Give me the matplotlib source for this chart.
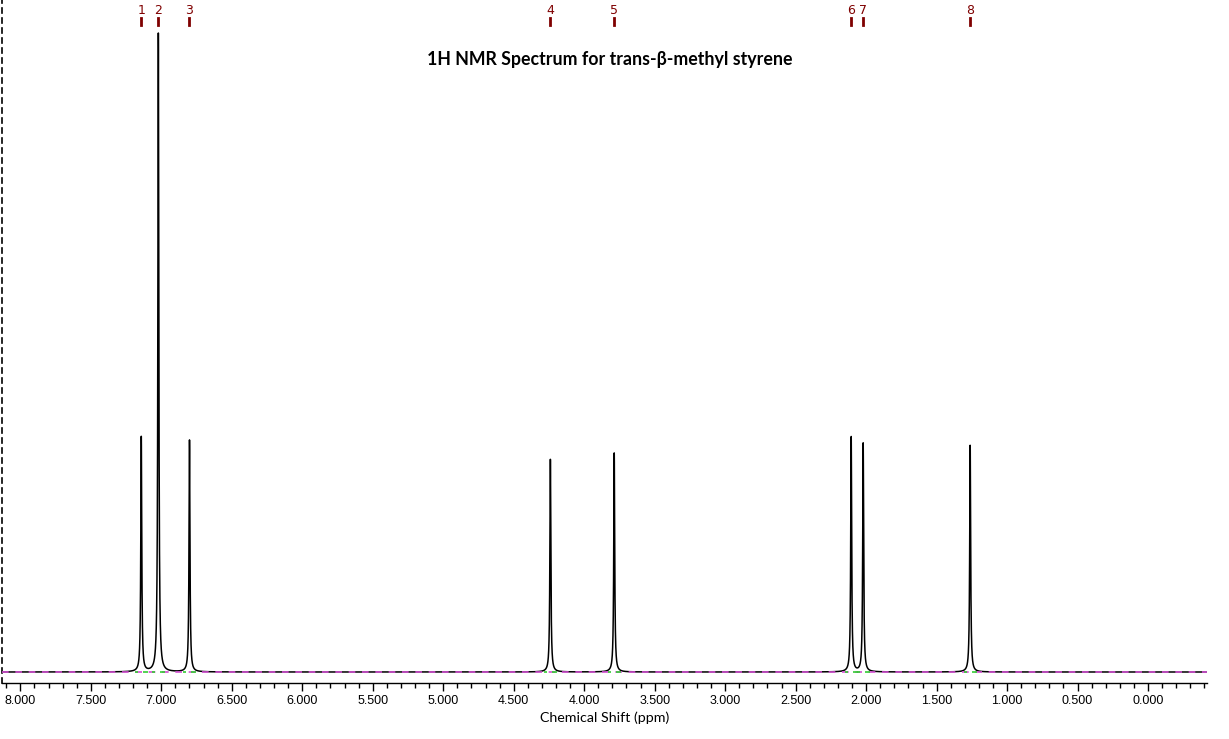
import matplotlib
matplotlib.use("Agg")
import matplotlib.pyplot as plt
import matplotlib.transforms as mtransforms
from matplotlib.ticker import MultipleLocator, FormatStrFormatter
import numpy as np

# peak positions (ppm) and relative heights
peak_ppm = [7.142, 7.021, 6.800, 4.240, 3.787, 2.106, 2.021, 1.262]
peak_height = [0.368, 1.000, 0.363, 0.333, 0.343, 0.368, 0.358, 0.355]
peak_labels = ["1", "2", "3", "4", "5", "6", "7", "8"]

title = "1H NMR Spectrum for trans-\u03b2-methyl styrene"
xlabel = "Chemical Shift (ppm)"

x_left, x_right = 8.13, -0.418
gamma = 0.004  # lorentzian half width (ppm)

ppm = np.linspace(x_left, x_right, 80000)
spec = np.zeros_like(ppm)
for p, h in zip(peak_ppm, peak_height):
    spec += h * gamma**2 / ((ppm - p)**2 + gamma**2)
# normalise so the tallest line reaches its height
spec = spec / spec.max() * max(peak_height)

W, H = 1229, 739
fig = plt.figure(figsize=(W / 100, H / 100), dpi=100)
# axes from x=2 to 1207 px, y from 682 px (axis line) up to top
ax = fig.add_axes([2 / W, (H - 682.5) / H, (1207 - 2) / W, 682.5 / H])

ax.plot(ppm, spec, color="black", lw=1.1, zorder=2)
# magenta dashed baseline marker over the spectrum baseline
ax.plot([x_left, x_right], [0, 0], color="#d24fd2", lw=1.2,
        dashes=(4, 4), zorder=3)
# green integration marks under the peaks
for p in peak_ppm:
    ax.plot([p - 0.045, p + 0.045], [0, 0], color="#33cc33", lw=1.2,
            dashes=(3, 3), zorder=4)

ax.set_xlim(x_left, x_right)
ax.set_ylim(-10.5 / 639, 672 / 639)

ax.xaxis.set_major_locator(MultipleLocator(0.5))
ax.xaxis.set_minor_locator(MultipleLocator(0.1))
ax.xaxis.set_major_formatter(FormatStrFormatter("%.3f"))
ax.tick_params(axis="x", which="major", length=6, width=1, direction="out",
               labelsize=9, pad=3)
ax.tick_params(axis="x", which="minor", length=3.5, width=1, direction="out")
for lab in ax.get_xticklabels():
    lab.set_family("Liberation Sans")
ax.set_yticks([])

ax.spines["top"].set_visible(False)
ax.spines["right"].set_visible(False)
ax.spines["left"].set_linestyle((0, (3, 3)))
ax.spines["left"].set_linewidth(1.2)
ax.spines["bottom"].set_linewidth(1.0)

ax.set_xlabel(xlabel, fontsize=10.3, family="Lato", labelpad=3)
fig.text(0.496, 1 - 59 / H, title, ha="center", va="center",
         fontsize=12.8, fontweight="bold", family="Lato")

# peak numbers and markers along the top
top_trans = mtransforms.blended_transform_factory(ax.transData, fig.transFigure)
for p, lab in zip(peak_ppm, peak_labels):
    ax.text(p, 1 - 11 / H, lab, transform=top_trans, ha="center",
            va="center", fontsize=9, color="#7f0000",
            family="DejaVu Sans", clip_on=False)
    ax.plot([p, p], [1 - 18 / H, 1 - 25 / H], color="#7f0000", lw=2,
            transform=top_trans, clip_on=False)

fig.savefig("out.png", dpi=100)
